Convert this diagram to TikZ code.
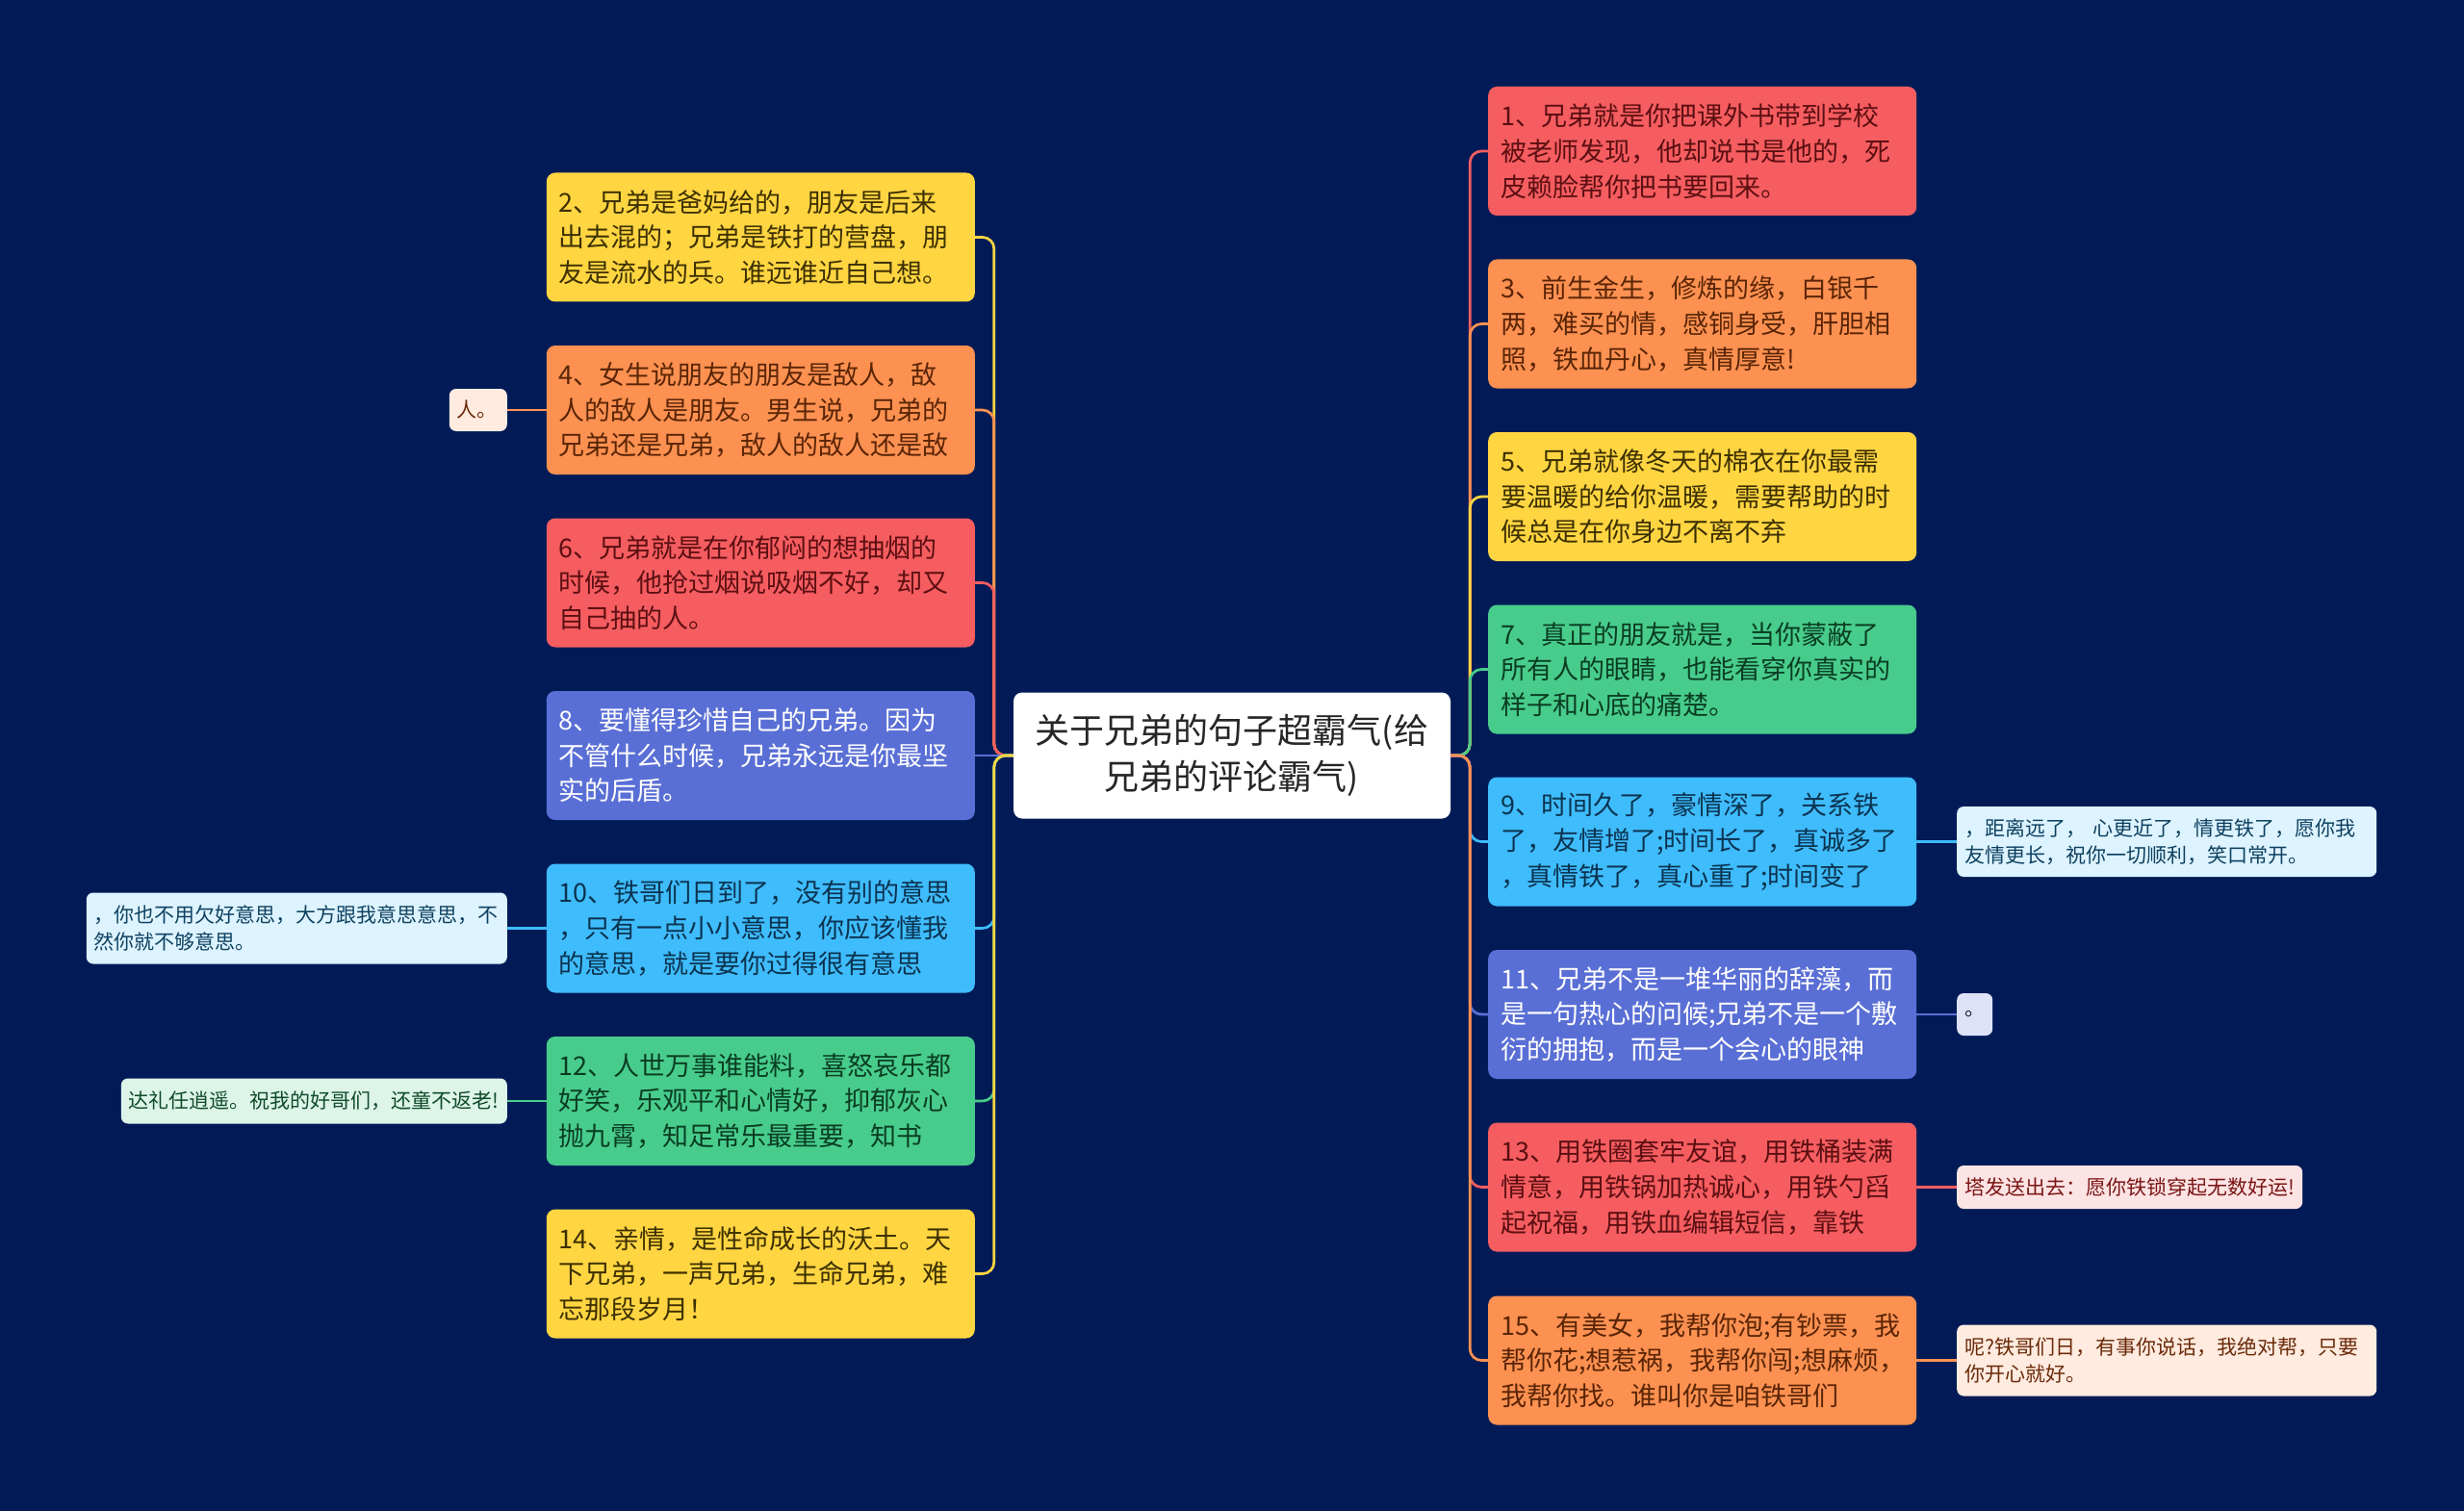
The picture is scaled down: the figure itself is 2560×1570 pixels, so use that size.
\documentclass[tikz,border=0pt]{standalone}
\usepackage{fontspec}
\setmainfont{Noto Sans CJK SC}
\definecolor{bg}{HTML}{021B57}
\definecolor{cred}{HTML}{F55D60}
\definecolor{corange}{HTML}{FD9151}
\definecolor{cyellow}{HTML}{FFD542}
\definecolor{cgreen}{HTML}{48CC8B}
\definecolor{csky}{HTML}{3FBCFC}
\definecolor{cindigo}{HTML}{5A6FD5}
\definecolor{tred}{HTML}{5C0F12}
\definecolor{torange}{HTML}{5A2506}
\definecolor{tyellow}{HTML}{3D3000}
\definecolor{tgreen}{HTML}{0A3D22}
\definecolor{tsky}{HTML}{0B3350}
\definecolor{lpeach}{HTML}{FFEBDF}
\definecolor{lblue}{HTML}{DDF3FF}
\definecolor{lmint}{HTML}{DDF4E8}
\definecolor{llav}{HTML}{DEE2F7}
\definecolor{lpink}{HTML}{FDE4E4}
\definecolor{tlpeach}{HTML}{6B2A0A}
\definecolor{tlblue}{HTML}{0E4160}
\definecolor{tlmint}{HTML}{0F4A2A}
\definecolor{tllav}{HTML}{1A1A2A}
\definecolor{tlpink}{HTML}{7A1515}
\begin{document}
\begin{tikzpicture}[x=1pt,y=-1pt,
  mainbox/.style={rectangle, rounded corners=9pt, minimum height=134pt, text width=419pt, inner xsep=13pt, inner ysep=0pt, align=left, font=\fontsize{27}{36.7}\selectfont},
  rootbox/.style={rectangle, rounded corners=9pt, fill=white, text=black!85, minimum width=454pt, minimum height=131pt, align=center, inner sep=0pt, font=\fontsize{36}{48}\selectfont},
  leafbox/.style={rectangle, rounded corners=7pt, inner xsep=8pt, inner ysep=0pt, align=left, font=\fontsize{21}{28}\selectfont},
  conn/.style={line width=2.7pt, rounded corners=12pt},
  lconn/.style={line width=2.7pt}
]
\fill[bg] (0,0) rectangle (2560,1570);
\useasboundingbox (0,0) rectangle (2560,1570);

% root
\node[rootbox] (root) at (1280,785) {关于兄弟的句子超霸气(给\\兄弟的评论霸气)};

% right children
\node[mainbox, fill=cred, text=tred, anchor=west] (c1) at (1546,157) {1、兄弟就是你把课外书带到学校\\被老师发现，他却说书是他的，死\\皮赖脸帮你把书要回来。};
\node[mainbox, fill=corange, text=torange, anchor=west] (c3) at (1546,336.5) {3、前生金生，修炼的缘，白银千\\两，难买的情，感铜身受，肝胆相\\照，铁血丹心，真情厚意!};
\node[mainbox, fill=cyellow, text=tyellow, anchor=west] (c5) at (1546,516) {5、兄弟就像冬天的棉衣在你最需\\要温暖的给你温暖，需要帮助的时\\候总是在你身边不离不弃};
\node[mainbox, fill=cgreen, text=tgreen, anchor=west] (c7) at (1546,695.5) {7、真正的朋友就是，当你蒙蔽了\\所有人的眼睛，也能看穿你真实的\\样子和心底的痛楚。};
\node[mainbox, fill=csky, text=tsky, anchor=west] (c9) at (1546,874.5) {9、时间久了，豪情深了，关系铁\\了，友情增了;时间长了，真诚多了\\，真情铁了，真心重了;时间变了};
\node[mainbox, fill=cindigo, text=white, anchor=west] (c11) at (1546,1054) {11、兄弟不是一堆华丽的辞藻，而\\是一句热心的问候;兄弟不是一个敷\\衍的拥抱，而是一个会心的眼神};
\node[mainbox, fill=cred, text=tred, anchor=west] (c13) at (1546,1233.5) {13、用铁圈套牢友谊，用铁桶装满\\情意，用铁锅加热诚心，用铁勺舀\\起祝福，用铁血编辑短信，靠铁};
\node[mainbox, fill=corange, text=torange, anchor=west] (c15) at (1546,1413.5) {15、有美女，我帮你泡;有钞票，我\\帮你花;想惹祸，我帮你闯;想麻烦，\\我帮你找。谁叫你是咱铁哥们};

% left children
\node[mainbox, fill=cyellow, text=tyellow, anchor=east] (c2) at (1013,246.5) {2、兄弟是爸妈给的，朋友是后来\\出去混的；兄弟是铁打的营盘，朋\\友是流水的兵。谁远谁近自己想。};
\node[mainbox, fill=corange, text=torange, anchor=east] (c4) at (1013,426) {4、女生说朋友的朋友是敌人，敌\\人的敌人是朋友。男生说，兄弟的\\兄弟还是兄弟，敌人的敌人还是敌};
\node[mainbox, fill=cred, text=tred, anchor=east] (c6) at (1013,605.5) {6、兄弟就是在你郁闷的想抽烟的\\时候，他抢过烟说吸烟不好，却又\\自己抽的人。};
\node[mainbox, fill=cindigo, text=white, anchor=east] (c8) at (1013,785) {8、要懂得珍惜自己的兄弟。因为\\不管什么时候，兄弟永远是你最坚\\实的后盾。};
\node[mainbox, fill=csky, text=tsky, anchor=east] (c10) at (1013,964.5) {10、铁哥们日到了，没有别的意思\\，只有一点小小意思，你应该懂我\\的意思，就是要你过得很有意思};
\node[mainbox, fill=cgreen, text=tgreen, anchor=east] (c12) at (1013,1144) {12、人世万事谁能料，喜怒哀乐都\\好笑，乐观平和心情好，抑郁灰心\\抛九霄，知足常乐最重要，知书};
\node[mainbox, fill=cyellow, text=tyellow, anchor=east] (c14) at (1013,1323.5) {14、亲情，是性命成长的沃土。天\\下兄弟，一声兄弟，生命兄弟，难\\忘那段岁月！};

% leaves
\node[leafbox, fill=lpeach, text=tlpeach, anchor=east, text width=44pt, minimum height=44pt] (l4) at (527,426) {人。};
\node[leafbox, fill=lblue, text=tlblue, anchor=east, text width=421pt, minimum height=74pt] (l10) at (527,964.5) {，你也不用欠好意思，大方跟我意思意思，不\\然你就不够意思。};
\node[leafbox, fill=lmint, text=tlmint, anchor=east, text width=385pt, minimum height=47pt] (l12) at (527,1144) {达礼任逍遥。祝我的好哥们，还童不返老!};
\node[leafbox, fill=lblue, text=tlblue, anchor=west, text width=420pt, minimum height=73pt] (l9) at (2033,874.5) {，距离远了， 心更近了，情更铁了，愿你我\\友情更长，祝你一切顺利，笑口常开。};
\node[leafbox, fill=llav, text=tllav, anchor=west, text width=21pt, minimum height=44pt] (l11) at (2033,1054) {。};
\node[leafbox, fill=lpink, text=tlpink, anchor=west, text width=343pt, minimum height=45pt] (l13) at (2033,1233.5) {塔发送出去：愿你铁锁穿起无数好运!};
\node[leafbox, fill=lpeach, text=tlpeach, anchor=west, text width=420pt, minimum height=74pt] (l15) at (2033,1413.5) {呢?铁哥们日，有事你说话，我绝对帮，只要\\你开心就好。};

% connectors root -> right children
\draw[conn, cred] (root.east) -- ++(20pt,0) |- (c1.west);
\draw[conn, corange] (root.east) -- ++(20pt,0) |- (c3.west);
\draw[conn, cyellow] (root.east) -- ++(20pt,0) |- (c5.west);
\draw[conn, cgreen] (root.east) -- ++(20pt,0) |- (c7.west);
\draw[conn, csky] (root.east) -- ++(20pt,0) |- (c9.west);
\draw[conn, cindigo] (root.east) -- ++(20pt,0) |- (c11.west);
\draw[conn, cred] (root.east) -- ++(20pt,0) |- (c13.west);
\draw[conn, corange] (root.east) -- ++(20pt,0) |- (c15.west);

% connectors root -> left children
\draw[conn, cyellow] (root.west) -- ++(-20pt,0) |- (c2.east);
\draw[conn, corange] (root.west) -- ++(-20pt,0) |- (c4.east);
\draw[conn, cred] (root.west) -- ++(-20pt,0) |- (c6.east);
\draw[conn, cindigo] (root.west) -- (c8.east);
\draw[conn, csky] (root.west) -- ++(-20pt,0) |- (c10.east);
\draw[conn, cgreen] (root.west) -- ++(-20pt,0) |- (c12.east);
\draw[conn, cyellow] (root.west) -- ++(-20pt,0) |- (c14.east);

% leaf connectors
\draw[lconn, corange] (c4.west) -- (l4.east);
\draw[lconn, csky] (c10.west) -- (l10.east);
\draw[lconn, cgreen] (c12.west) -- (l12.east);
\draw[lconn, csky] (c9.east) -- (l9.west);
\draw[lconn, cindigo] (c11.east) -- (l11.west);
\draw[lconn, cred] (c13.east) -- (l13.west);
\draw[lconn, corange] (c15.east) -- (l15.west);
\end{tikzpicture}
\end{document}
